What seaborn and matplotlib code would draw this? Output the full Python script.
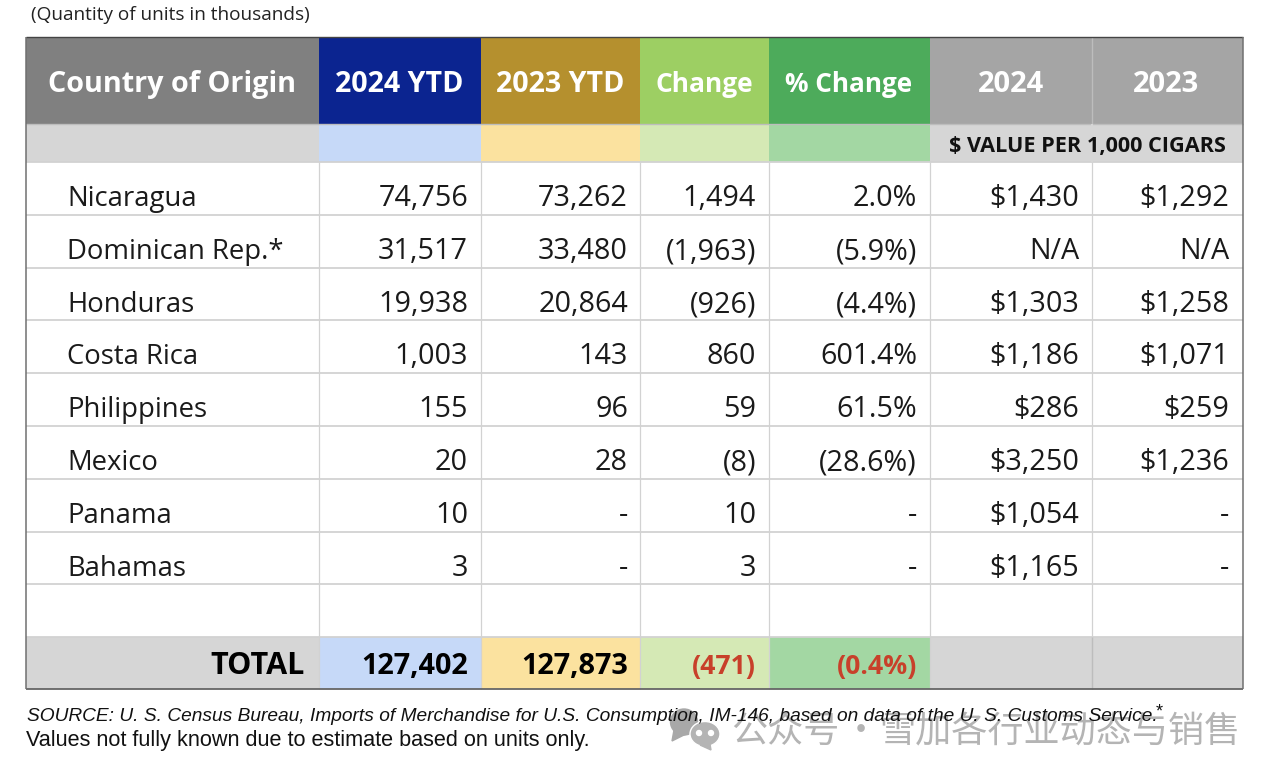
import numpy as np
import matplotlib
matplotlib.use("Agg")
import matplotlib.pyplot as plt
from matplotlib.colors import ListedColormap
from matplotlib.patches import Ellipse, Polygon
import seaborn as sns

# ── DATA ─────────────────────────────────────────────────────────────────────
countries = ["Nicaragua", "Dominican Rep.*", "Honduras", "Costa Rica",
             "Philippines", "Mexico", "Panama", "Bahamas"]
ytd_2024 = ["74,756", "31,517", "19,938", "1,003", "155", "20", "10", "3"]
ytd_2023 = ["73,262", "33,480", "20,864", "143", "96", "28", "-", "-"]
change = ["1,494", "(1,963)", "(926)", "860", "59", "(8)", "10", "3"]
pct_change = ["2.0%", "(5.9%)", "(4.4%)", "601.4%", "61.5%", "(28.6%)", "-", "-"]
value_2024 = ["$1,430", "N/A", "$1,303", "$1,186", "$286", "$3,250", "$1,054", "$1,165"]
value_2023 = ["$1,292", "N/A", "$1,258", "$1,071", "$259", "$1,236", "-", "-"]

headers = ["Country of Origin", "2024 YTD", "2023 YTD", "Change", "% Change", "2024", "2023"]
totals = ["TOTAL", "127,402", "127,873", "(471)", "(0.4%)"]

# ── LAYOUT (pixels) ──────────────────────────────────────────────────────────
W, H = 1280, 779
col_edges = [26, 319, 481, 640, 769, 930, 1092, 1243]
row_edges = [37, 124, 162, 215, 268, 320, 373, 426, 479, 532, 584, 637, 689]
col_right = [468, 628, 756, 917, 1079, 1229]

header_colors = ["#808080", "#0b2490", "#b5902e", "#9dcf63", "#4dab5b", "#a5a5a5"]
light_colors = ["#d6d6d6", "#c6d9f8", "#fbe29f", "#d5e9b5", "#a3d7a3"]

sns.set_theme(style="white")
plt.rcParams["font.family"] = ["Open Sans", "DejaVu Sans"]

# colour index per cell, expanded to one heatmap cell per pixel
palette = ["#ffffff"] + header_colors + light_colors
header_idx = [1, 2, 3, 4, 5, 6, 6]
light_idx = [7, 8, 9, 10, 11, 7, 7]
n_rows = len(row_edges) - 1
n_cols = len(col_edges) - 1
cells = np.zeros((n_rows, n_cols), dtype=int)
cells[0] = header_idx
cells[1] = light_idx
cells[-1] = light_idx

grid = np.zeros((H, W), dtype=int)
for r in range(n_rows):
    for c in range(n_cols):
        grid[row_edges[r]:row_edges[r + 1], col_edges[c]:col_edges[c + 1]] = cells[r, c]

fig = plt.figure(figsize=(W / 100, H / 100), dpi=100)
ax = fig.add_axes([0, 0, 1, 1])
sns.heatmap(grid, cmap=ListedColormap(palette), vmin=0, vmax=len(palette) - 1,
            cbar=False, xticklabels=False, yticklabels=False, ax=ax)
ax.set_xlim(0, W)
ax.set_ylim(H, 0)

# grid lines
for y in row_edges[2:-1]:
    ax.hlines(y, col_edges[0], col_edges[-1], color="#d2d2d2", linewidth=1.3)
ax.hlines(124, col_edges[0], col_edges[-1], color="#bdbdbd", linewidth=1)
for x in col_edges[1:-1]:
    ax.vlines(x, 162, 689, color="#d2d2d2", linewidth=0.9)
ax.vlines(1092, 37, 124, color="#bdbdbd", linewidth=1)
ax.vlines(1092, 637, 689, color="#bdbdbd", linewidth=1)
ax.vlines(1092, 124, 162, color="#d6d6d6", linewidth=1.5)

# outer border
ax.hlines(37, 26, 1243, color="#444444", linewidth=1)
ax.hlines(689, 26, 1243, color="#666666", linewidth=1.3)
ax.vlines([26, 1243], 37, 689, color="#707070", linewidth=1.1)

# header text
header_x = [172, 399, 560, 704, 849, 1011, 1166]
header_size = [20.7, 20.6, 20.6, 19, 18.8, 21, 21]
for x, label, size in zip(header_x, headers, header_size):
    ax.text(x, 92, label, ha="center", va="baseline", color="#ffffff",
            fontsize=size, fontweight="bold")
ax.text(1087, 152, "$ VALUE PER 1,000 CIGARS", ha="center", va="baseline",
        color="#111111", fontsize=15.6, fontweight="bold")

# body text
columns = [ytd_2024, ytd_2023, change, pct_change, value_2024, value_2023]
for i, name in enumerate(countries):
    baseline = row_edges[i + 2] + 44
    ax.text(67, baseline, name, ha="left", va="baseline", color="#1a1a1a", fontsize=19.8)
    for col, right in zip(columns, col_right):
        ax.text(right, baseline, col[i], ha="right", va="baseline",
                color="#1a1a1a", fontsize=20.7)

# total row
total_right = [305] + col_right[:4]
total_size = [22, 20.8, 20.8, 19.2, 19.2]
total_color = ["#000000", "#000000", "#000000", "#c8402a", "#c8402a"]
for right, label, size, color in zip(total_right, totals, total_size, total_color):
    ax.text(right, 674, label, ha="right", va="baseline", color=color,
            fontsize=size, fontweight="bold")

# watermark sits under the footer
ax.add_patch(Ellipse((684, 722), 27, 26, color="#a8a8a8", zorder=3))
ax.add_patch(Polygon([[674, 730], [672, 741], [686, 734]], color="#a8a8a8", zorder=3))
ax.add_patch(Ellipse((705, 734), 30, 25, color="#b4b4b4", ec="#ffffff", lw=1, zorder=3))
ax.add_patch(Polygon([[710, 744], [700, 745], [711, 750]], color="#b4b4b4", zorder=3))
for x in [699, 711]:
    ax.add_patch(Ellipse((x, 733), 5, 5, color="#ffffff", zorder=3))
cjk = ["Noto Sans CJK SC", "DejaVu Sans"]
for x, part in zip([731, 843, 879], ["公众号", "·", "雪加各行业动态与销售"]):
    ax.text(x, 742, part, ha="left", va="baseline", color="#b4b4b4",
            fontsize=26, family=cjk, zorder=3)

# subtitle and footer
ax.text(31, 20, "(Quantity of units in thousands)", ha="left", va="baseline",
        color="#222222", fontsize=13.7, family="Open Sans", zorder=4)
ax.text(27, 721, "SOURCE: U. S. Census Bureau, Imports of Merchandise for U.S. Consumption, "
        "IM-146, based on data of the U. S. Customs Service.", ha="left", va="baseline",
        color="#111111", fontsize=13.8, style="italic", family="Liberation Sans", zorder=4)
ax.text(1156, 716, "*", ha="left", va="baseline", color="#111111", fontsize=13,
        family="Liberation Sans", zorder=4)
ax.text(26, 746, "Values not fully known due to estimate based on units only.", ha="left",
        va="baseline", color="#111111", fontsize=15.6, family="Liberation Sans", zorder=4)

ax.axis("off")
plt.savefig("out.png", dpi=100)
